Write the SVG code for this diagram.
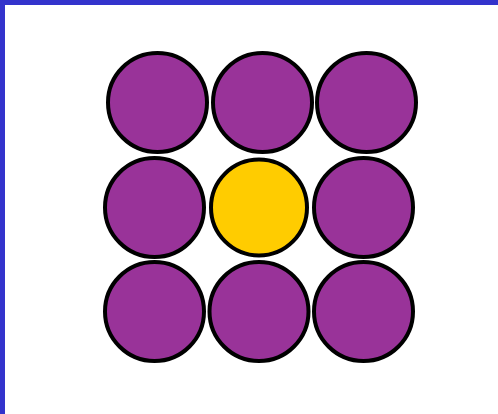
<svg xmlns="http://www.w3.org/2000/svg" width="498" height="414" viewBox="0 0 498 414">
<style>
.p{fill:#993399;stroke:#000;stroke-width:4}
.y{fill:#FFCC00;stroke:#000;stroke-width:4}
</style>
<rect x="0" y="0" width="498" height="414" fill="#fff"/>
<rect x="0" y="0" width="498" height="5" fill="#3333CC"/>
<rect x="0" y="0" width="5" height="414" fill="#3333CC"/>
<g id="c11"><circle class="p" cx="157.5" cy="102.5" r="49.5"/></g>
<g id="c12"><circle class="p" cx="262.5" cy="102.5" r="49.5"/></g>
<g id="c13"><circle class="p" cx="366.5" cy="102.5" r="49.5"/></g>
<g id="c21"><circle class="p" cx="154.5" cy="207.5" r="49.5"/></g>
<g id="c22"><circle class="y" cx="259" cy="207.5" r="48"/></g>
<g id="c23"><circle class="p" cx="363.5" cy="207.5" r="49.5"/></g>
<g id="c31"><circle class="p" cx="154.5" cy="311.5" r="49.5"/></g>
<g id="c32"><circle class="p" cx="259" cy="311.5" r="49.5"/></g>
<g id="c33"><circle class="p" cx="363.5" cy="311.5" r="49.5"/></g>
</svg>
